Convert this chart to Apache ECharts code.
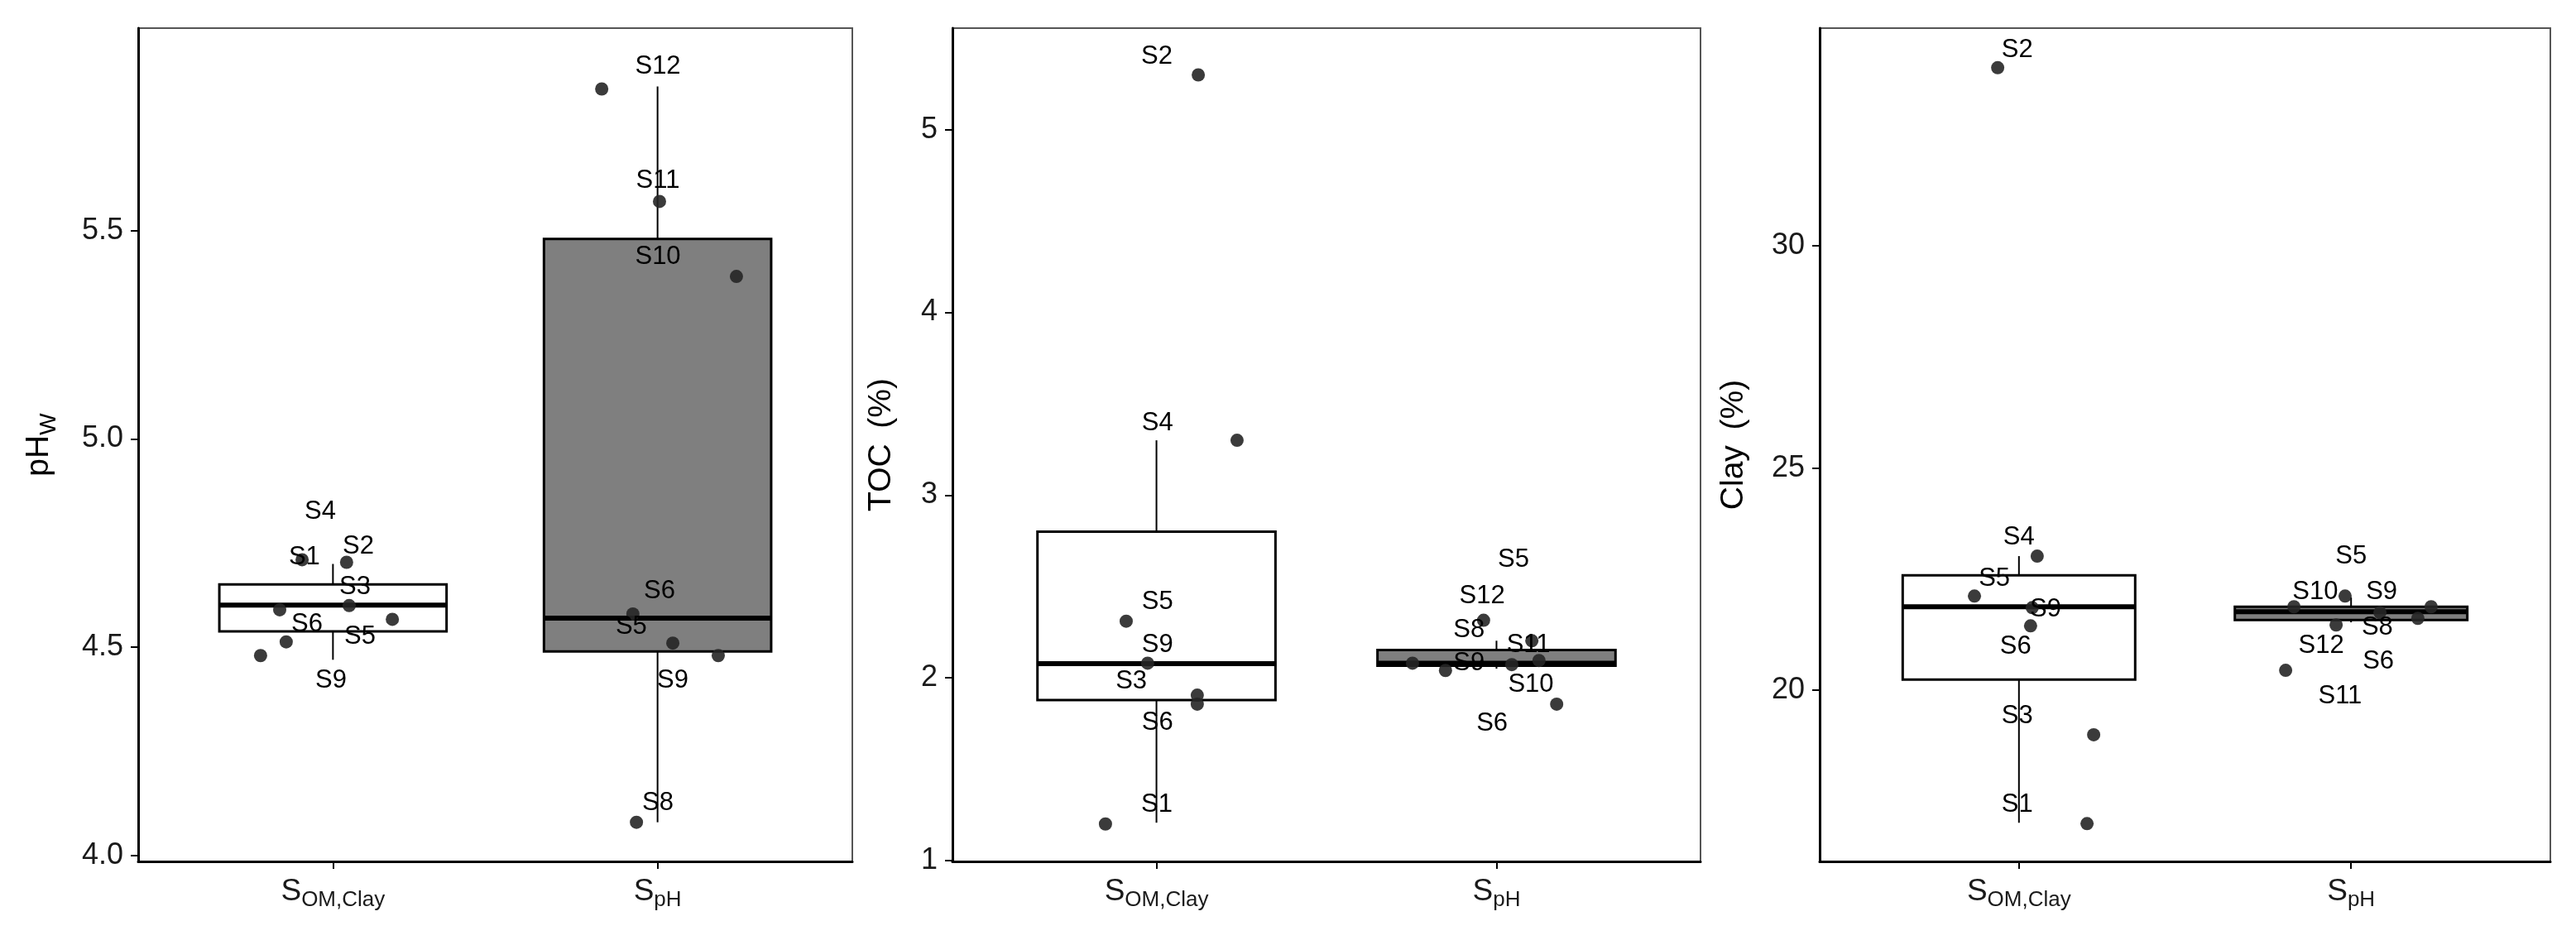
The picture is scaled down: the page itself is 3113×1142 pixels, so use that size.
<!DOCTYPE html>
<html>
<head>
<meta charset="utf-8">
<title>Boxplots pH / TOC / Clay</title>
<script src="https://cdn.jsdelivr.net/npm/echarts@6/dist/echarts.min.js"></script>
<style>
  html, body { margin: 0; padding: 0; background: #fff; }
  #chart { width: 3113px; height: 1142px; }
</style>
</head>
<body>
<div id="chart"></div>
<script>
// groups on the x axis (1 = S_OM,Clay, 2 = S_pH)
const groupTicks = [1, 2];
const groupMain = ["S", "S"];
const groupSub = ["OM,Clay", "pH"];

// ---- pH panel ----
// box stats: [x, lower whisker, Q1, median, Q3, upper whisker, filled]
const phBox = [
  [1, 4.47, 4.538, 4.601, 4.651, 4.70, 0],
  [2, 4.08, 4.49, 4.57, 5.48, 5.846, 1]
];
const phPointX = [0.905, 1.042, 1.05, 0.836, 1.183, 0.856, 0.777,
                  1.828, 2.006, 2.243, 1.924, 2.047, 2.187, 1.935];
const phPointY = [4.71, 4.704, 4.60, 4.59, 4.567, 4.513, 4.48,
                  5.84, 5.57, 5.39, 4.58, 4.51, 4.48, 4.08];
const phLabelName = ["S4", "S2", "S1", "S3", "S6", "S5", "S9",
                     "S12", "S11", "S10", "S6", "S5", "S9", "S8"];
const phLabelX = [0.961, 1.078, 0.912, 1.068, 0.92, 1.083, 0.994,
                  2.001, 2.001, 2.001, 2.006, 1.919, 2.047, 2.001];
const phLabelY = [4.825, 4.742, 4.716, 4.645, 4.556, 4.526, 4.42,
                  5.893, 5.619, 5.437, 4.635, 4.55, 4.42, 4.127];
const phTicks = [4.0, 4.5, 5.0, 5.5];

// ---- TOC panel ----
const tocBox = [
  [1, 1.207, 1.878, 2.077, 2.80, 3.30, 0],
  [2, 2.05, 2.066, 2.08, 2.152, 2.203, 1]
];
const tocPointX = [1.123, 1.237, 0.911, 0.974, 1.12, 1.12, 0.85,
                   1.962, 2.104, 2.125, 2.045, 1.753, 1.85, 2.177];
const tocPointY = [5.30, 3.30, 2.31, 2.08, 1.905, 1.856, 1.20,
                   2.315, 2.203, 2.095, 2.072, 2.08, 2.04, 1.856];
const tocLabelName = ["S2", "S4", "S5", "S9", "S3", "S6", "S1",
                      "S5", "S12", "S8", "S11", "S9", "S10", "S6"];
const tocLabelX = [1.001, 1.003, 1.003, 1.003, 0.926, 1.003, 1.001,
                   2.05, 1.958, 1.919, 2.094, 1.919, 2.101, 1.987];
const tocLabelY = [5.398, 3.394, 2.414, 2.18, 1.982, 1.752, 1.306,
                   2.644, 2.446, 2.261, 2.18, 2.08, 1.96, 1.748];
const tocTicks = [1, 2, 3, 4, 5];

// ---- Clay panel ----
const clayBox = [
  [1, 17.02, 20.24, 21.88, 22.59, 23.02, 0],
  [2, 21.53, 21.58, 21.77, 21.88, 22.09, 1]
];
const clayPointX = [0.936, 1.055, 0.866, 1.04, 1.035, 1.225, 1.205,
                    1.828, 1.982, 2.241, 2.087, 2.201, 1.955, 1.803];
const clayPointY = [34.01, 23.02, 22.12, 21.86, 21.45, 19.0, 17.0,
                    21.88, 22.12, 21.88, 21.75, 21.62, 21.47, 20.45];
const clayLabelName = ["S2", "S4", "S5", "S9", "S6", "S3", "S1",
                       "S5", "S10", "S9", "S8", "S12", "S6", "S11"];
const clayLabelX = [0.995, 1.0, 0.926, 1.08, 0.99, 0.995, 0.995,
                    2.0, 1.892, 2.092, 2.079, 1.91, 2.082, 1.967];
const clayLabelY = [34.41, 23.44, 22.51, 21.82, 20.99, 19.42, 17.43,
                    23.02, 22.22, 22.22, 21.41, 21.0, 20.65, 19.87];
const clayTicks = [20, 25, 30];

const FONT = "'Liberation Sans', Arial, sans-serif";
const BOX_HALF = 0.35;

const panels = [
  { box: phBox, px: phPointX, py: phPointY, ln: phLabelName, lx: phLabelX, ly: phLabelY,
    ticks: phTicks, min: 3.986, max: 5.986, fmt: v => v.toFixed(1),
    name: "{a|pH}{b|W}", nameGap: 94,
    grid: { left: 167, top: 34, width: 863, height: 1007 } },
  { box: tocBox, px: tocPointX, py: tocPointY, ln: tocLabelName, lx: tocLabelX, ly: tocLabelY,
    ticks: tocTicks, min: 0.995, max: 5.556, fmt: v => String(v),
    name: "{a|TOC\u2009 (%)}", nameGap: 60,
    grid: { left: 1151, top: 34, width: 904, height: 1007 } },
  { box: clayBox, px: clayPointX, py: clayPointY, ln: clayLabelName, lx: clayLabelX, ly: clayLabelY,
    ticks: clayTicks, min: 16.15, max: 34.90, fmt: v => String(v),
    name: "{a|Clay\u2009 (%)}", nameGap: 78,
    grid: { left: 2199, top: 34, width: 883, height: 1007 } }
];

function renderBox(params, api) {
  const x = api.value(0);
  const lo = api.value(1), q1 = api.value(2), med = api.value(3), q3 = api.value(4), hi = api.value(5);
  const fill = api.value(6) ? "#7f7f7f" : "#ffffff";
  const tl = api.coord([x - BOX_HALF, q3]);
  const br = api.coord([x + BOX_HALF, q1]);
  const pHi = api.coord([x, hi]);
  const pLo = api.coord([x, lo]);
  const mL = api.coord([x - BOX_HALF, med]);
  const mR = api.coord([x + BOX_HALF, med]);
  return {
    type: "group",
    children: [
      { type: "line", shape: { x1: pHi[0], y1: pHi[1], x2: pHi[0], y2: tl[1] }, style: { stroke: "#000", lineWidth: 2 } },
      { type: "line", shape: { x1: pLo[0], y1: br[1], x2: pLo[0], y2: pLo[1] }, style: { stroke: "#000", lineWidth: 2 } },
      { type: "rect", shape: { x: tl[0], y: tl[1], width: br[0] - tl[0], height: br[1] - tl[1] },
        style: { fill: fill, stroke: "#000", lineWidth: 3 } },
      { type: "line", shape: { x1: mL[0], y1: mL[1], x2: mR[0], y2: mR[1] }, style: { stroke: "#000", lineWidth: 6 } }
    ]
  };
}

const grids = [], xAxes = [], yAxes = [], series = [];
panels.forEach((p, i) => {
  grids.push(Object.assign({ show: true, borderColor: "#555", borderWidth: 2, backgroundColor: "#fff" }, p.grid));
  xAxes.push({
    gridIndex: i, type: "value", min: 0.4, max: 2.6,
    axisLine: { show: true, onZero: false, lineStyle: { color: "#000", width: 3 } },
    axisTick: { show: true, customValues: groupTicks, length: 9, lineStyle: { color: "#000", width: 2 } },
    axisLabel: {
      customValues: groupTicks, margin: 20, fontFamily: FONT,
      formatter: v => "{s|" + groupMain[v - 1] + "}{b|" + groupSub[v - 1] + "}",
      rich: {
        s: { fontSize: 37, fontFamily: FONT, color: "#1a1a1a", lineHeight: 40, verticalAlign: "bottom", padding: [0, 0, 5, 0] },
        b: { fontSize: 26, fontFamily: FONT, color: "#1a1a1a", lineHeight: 26, verticalAlign: "bottom" }
      }
    },
    splitLine: { show: false }
  });
  yAxes.push({
    gridIndex: i, type: "value", min: p.min, max: p.max,
    axisLine: { show: true, onZero: false, lineStyle: { color: "#000", width: 3 } },
    axisTick: { show: true, customValues: p.ticks, length: 9, lineStyle: { color: "#000", width: 2 } },
    axisLabel: { customValues: p.ticks, formatter: p.fmt, fontSize: 36, fontFamily: FONT, color: "#1a1a1a", margin: 18 },
    splitLine: { show: false },
    name: p.name, nameLocation: "middle", nameRotate: 90, nameGap: p.nameGap,
    nameTextStyle: {
      fontFamily: FONT,
      rich: {
        a: { fontSize: 39, fontFamily: FONT, color: "#000", lineHeight: 44, verticalAlign: "bottom", padding: [0, 0, 6, 0] },
        b: { fontSize: 28, fontFamily: FONT, color: "#000", lineHeight: 28, verticalAlign: "bottom" }
      }
    }
  });
  series.push({
    type: "custom", xAxisIndex: i, yAxisIndex: i, z: 2, silent: true,
    renderItem: renderBox, data: p.box
  });
  series.push({
    type: "scatter", xAxisIndex: i, yAxisIndex: i, z: 3, silent: true,
    symbolSize: 16, itemStyle: { color: "#262626", opacity: 0.9 },
    data: p.px.map((x, k) => [x, p.py[k]])
  });
  series.push({
    type: "scatter", xAxisIndex: i, yAxisIndex: i, z: 4, silent: true,
    symbolSize: 1, itemStyle: { color: "transparent", opacity: 1 },
    label: { show: true, position: "inside", formatter: "{b}", fontSize: 31, fontFamily: FONT,
             color: "#000", opacity: 1 },
    data: p.ln.map((n, k) => ({ name: n, value: [p.lx[k], p.ly[k]] }))
  });
});

const chart = echarts.init(document.getElementById("chart"), null, { renderer: "canvas" });
chart.setOption({
  backgroundColor: "#fff",
  animation: false,
  grid: grids,
  xAxis: xAxes,
  yAxis: yAxes,
  series: series
});
window.addEventListener("resize", () => chart.resize(), false);
</script>
</body>
</html>
